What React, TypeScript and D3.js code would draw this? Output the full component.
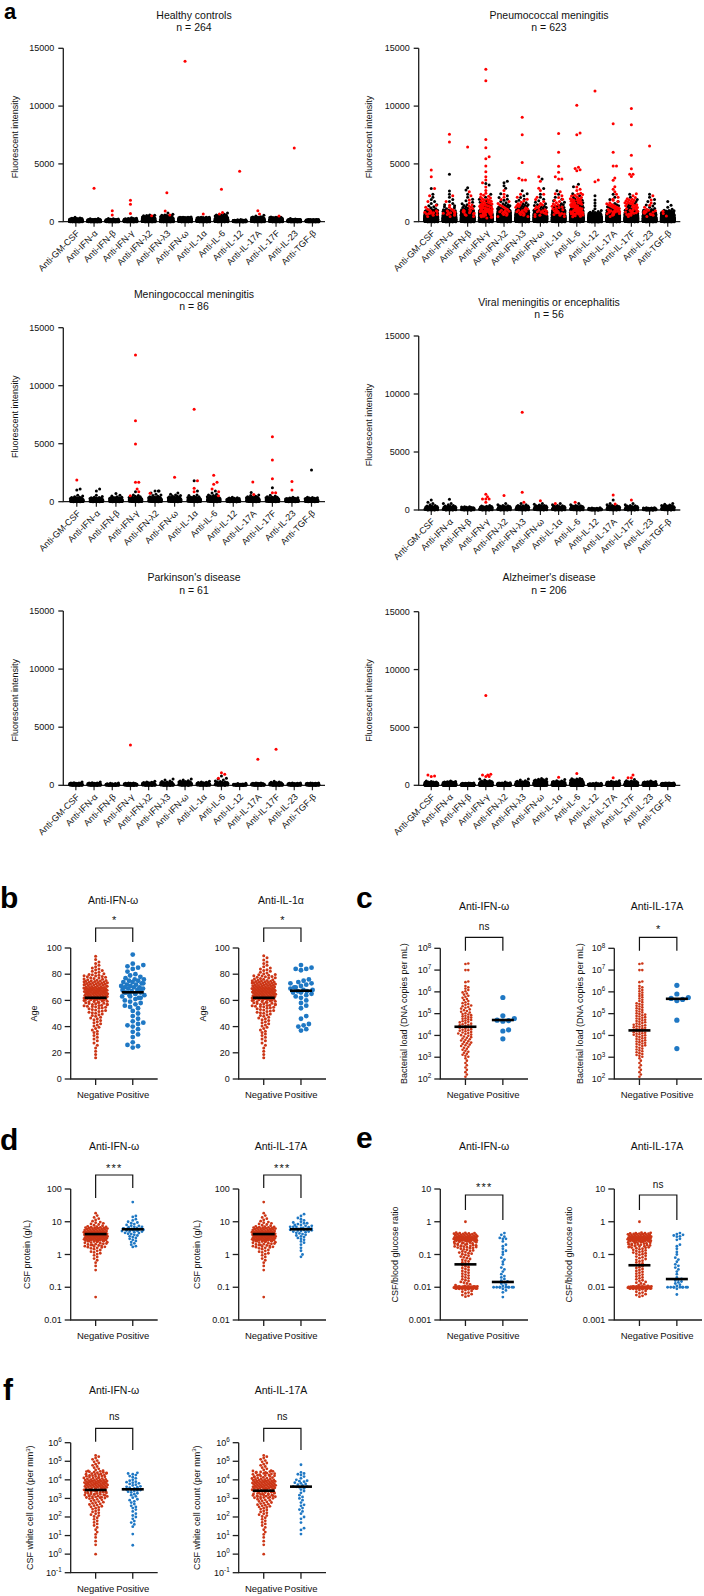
import React from 'react';
import * as d3 from 'd3';

const FONT = "'Liberation Sans', Arial, Helvetica, sans-serif";
const AXIS = '#1e1e1e';
const A_RED = '#ff0000';
const A_BLACK = '#000000';
const NEG = '#cc3616';
const POS = '#1f78c4';

// ---------------- Panel a data ----------------
const CATS14 = ['Anti-GM-CSF', 'Anti-IFN-α', 'Anti-IFN-β', 'Anti-IFN-γ', 'Anti-IFN-λ2', 'Anti-IFN-λ3', 'Anti-IFN-ω', 'Anti-IL-1α', 'Anti-IL-6', 'Anti-IL-12', 'Anti-IL-17A', 'Anti-IL-17F', 'Anti-IL-23', 'Anti-TGF-β'];
const CATS13 = ['Anti-GM-CSF', 'Anti-IFN-α', 'Anti-IFN-β', 'Anti-IFN-γ', 'Anti-IFN-λ2', 'Anti-IFN-ω', 'Anti-IL-1α', 'Anti-IL-6', 'Anti-IL-12', 'Anti-IL-17A', 'Anti-IL-17F', 'Anti-IL-23', 'Anti-TGF-β'];
const A_TICKS = [0, 5000, 10000, 15000];
const A_BIN_EDGES = [0, 100, 200, 300, 400, 600, 800, 1000, 1500, 2000, 2500];

// Healthy controls
const HC_BLACK_BINS = [
  [180, 70, 12, 2], [230, 30, 3], [230, 28, 4], [200, 50, 10, 1], [150, 60, 30, 12, 8], [170, 50, 20, 10, 8, 2],
  [120, 80, 45, 15], [150, 70, 30, 10], [130, 70, 35, 12, 10, 2], [255, 6], [150, 70, 25, 12, 3], [150, 70, 25, 12],
  [220, 40, 2], [240, 23],
];
const HC_BLACK_PTS: number[][] = [];
const HC_RED_PTS = [[1, 2900], [2, 950], [2, 580], [3, 1850], [3, 1500], [3, 720], [4, 520], [5, 2510], [5, 920], [5, 580],
  [6, 13870], [7, 660], [8, 2800], [8, 660], [8, 800], [9, 4355], [10, 950], [10, 660], [11, 490], [12, 6375]];

// Pneumococcal meningitis
const PM_BLACK_BINS = [
  [120, 130, 110, 90, 90, 45, 18, 6, 3, 2], [130, 130, 110, 90, 80, 40, 15, 6, 3, 2], [110, 120, 110, 95, 90, 50, 20, 8, 4, 2],
  [95, 105, 95, 80, 75, 45, 20, 8, 4, 2], [95, 110, 105, 95, 95, 55, 25, 10, 5, 3], [95, 105, 105, 95, 95, 55, 25, 10, 5, 3],
  [85, 100, 105, 105, 105, 60, 25, 8, 4, 2], [95, 105, 105, 95, 95, 50, 25, 8, 4, 2], [80, 95, 95, 90, 85, 50, 25, 10, 5, 3],
  [200, 180, 110, 65, 45, 12, 4, 2, 2, 1], [100, 110, 105, 95, 85, 45, 20, 6, 3, 2], [100, 110, 105, 95, 85, 45, 20, 6, 3, 2],
  [140, 140, 115, 85, 75, 30, 12, 5, 3, 2], [140, 140, 125, 95, 75, 30, 10, 3, 1, 0],
];
const PM_RED_BINS = [
  [0, 0, 0, 0, 2, 5, 6, 3, 1, 1], [0, 0, 0, 0, 2, 5, 5, 3, 1, 1], [0, 0, 0, 0, 2, 4, 6, 5, 2, 1], [0, 0, 0, 2, 8, 14, 16, 18, 12, 6],
  [0, 0, 0, 0, 2, 4, 5, 5, 3, 2], [0, 0, 0, 0, 2, 4, 5, 7, 4, 2], [0, 0, 0, 0, 2, 4, 5, 6, 3, 2], [0, 0, 0, 0, 2, 5, 6, 8, 5, 3],
  [0, 0, 0, 0, 4, 10, 14, 18, 14, 8], [], [0, 0, 0, 0, 2, 6, 8, 12, 5, 2], [0, 0, 0, 0, 2, 5, 7, 10, 12, 3],
  [0, 0, 0, 0, 2, 4, 5, 3, 2, 1], [0, 0, 0, 0, 1, 1, 1],
];
const PM_BLACK_PTS = [[0, 2880], [1, 4100], [1, 2650], [2, 2940], [2, 2740], [3, 3170], [3, 3300], [4, 3500], [4, 3370], [4, 3100],
  [4, 2900], [5, 2680], [6, 3700], [6, 2880], [7, 2680], [8, 3230], [8, 3030]];
const PM_RED_PTS = [[0, 4470], [0, 3890], [0, 2880], [1, 7560], [1, 6890], [2, 6460], [2, 2600],
  [3, 13180], [3, 12200], [3, 7120], [3, 6400], [3, 5620], [3, 5450], [3, 4820], [3, 4330], [3, 3890], [3, 3600], [3, 3370], [3, 3000], [3, 2700],
  [4, 2700], [5, 9030], [5, 7530], [5, 5130], [5, 3750], [5, 3600], [5, 3600], [6, 3890], [6, 3500], [6, 2900], [6, 2700],
  [7, 7620], [7, 6000], [7, 4790], [7, 4270], [7, 3890], [7, 3700], [7, 3700], [7, 2600],
  [8, 10070], [8, 7670], [8, 7530], [8, 4700], [8, 4600], [8, 4500], [8, 4400], [8, 3000], [8, 2800], [8, 2700],
  [9, 11300], [9, 3600], [9, 3460], [10, 8480], [10, 6000], [10, 4820], [10, 4820], [10, 3780], [10, 3580], [10, 3030], [10, 2800], [10, 2600],
  [11, 9800], [11, 8390], [11, 5740], [11, 4590], [11, 4100], [11, 4100], [11, 3900], [12, 6550]];

// Meningococcal meningitis (13 antigens)
const MM_BLACK_BINS = [
  [40, 25, 10, 5, 3], [40, 25, 12, 4, 2], [40, 25, 12, 5, 3, 1], [30, 25, 15, 6, 4], [30, 25, 15, 8, 4, 2], [30, 25, 15, 8, 5, 2],
  [30, 25, 15, 6, 4], [25, 25, 15, 8, 5, 2], [55, 20, 8, 3], [30, 25, 15, 8, 4], [30, 25, 15, 8, 3], [45, 25, 10, 3], [40, 28, 12, 4],
];
const MM_BLACK_PTS = [[0, 1000], [0, 1090], [1, 920], [1, 1090], [3, 860], [4, 920], [4, 920], [4, 920], [6, 920], [6, 1810],
  [7, 920], [9, 800], [10, 1200], [12, 2730]];
const MM_RED_PTS = [[0, 1870], [3, 12640], [3, 6980], [3, 4970], [3, 1670], [3, 1670], [3, 1090], [3, 860], [3, 520], [4, 720],
  [5, 2100], [6, 7960], [6, 1810], [6, 1150], [6, 860], [7, 2270], [7, 1670], [7, 1500], [7, 1090], [7, 860], [7, 520],
  [9, 1700], [9, 630], [10, 5600], [10, 3590], [10, 1980], [10, 780], [10, 780], [11, 1750], [11, 1000]];

// Viral meningitis or encephalitis
const VM_BLACK_BINS = [
  [25, 15, 8, 3, 2], [25, 15, 8, 3, 2], [35, 15, 5], [25, 15, 8, 3], [25, 15, 8, 4, 2], [22, 15, 8, 5, 2], [20, 15, 10, 6, 3],
  [25, 15, 8, 4, 2], [22, 15, 10, 5, 2], [50, 6], [22, 15, 10, 5, 2], [25, 15, 8, 4, 2], [45, 11], [20, 15, 12, 6, 3],
];
const VM_BLACK_PTS = [[0, 860], [0, 660], [1, 920], [1, 570], [10, 860]];
const VM_RED_PTS = [[3, 1350], [3, 1150], [3, 950], [3, 950], [3, 950], [3, 660], [4, 1240], [5, 8420], [5, 1520], [5, 660],
  [6, 800], [7, 570], [8, 660], [10, 1290], [10, 520], [11, 860]];

// Parkinson's disease
const PD_BLACK_BINS = [
  [45, 14, 2], [45, 14, 2], [55, 6], [48, 12], [40, 15, 5, 1], [40, 12, 5, 2, 2], [30, 15, 10, 4, 2], [40, 15, 5, 1],
  [30, 15, 6, 2, 2], [58, 3], [48, 12], [40, 15, 4, 1], [48, 13], [45, 16],
];
const PD_BLACK_PTS = [[8, 800], [8, 600]];
const PD_RED_PTS = [[3, 3470], [8, 1090], [8, 950], [8, 600], [10, 2240], [11, 3100]];

// Alzheimer's disease
const AD_BLACK_BINS = [
  [150, 40, 10, 2], [140, 50, 14, 2], [190, 16], [130, 45, 15, 5, 2], [180, 24, 2], [140, 45, 15, 3, 2], [80, 60, 40, 20, 6],
  [130, 50, 20, 4, 1], [110, 50, 25, 10, 8], [200, 6], [150, 40, 12, 3], [130, 50, 18, 4, 1], [140, 50, 14, 2], [180, 26],
];
const AD_BLACK_PTS: number[][] = [];
const AD_RED_PTS = [[0, 750], [0, 890], [0, 800], [3, 7750], [3, 950], [3, 890], [3, 890], [3, 750], [3, 750], [7, 690],
  [8, 1030], [10, 660], [11, 890], [11, 660], [11, 660]];

const A_TITLES = ['Healthy controls', 'Pneumococcal meningitis', 'Meningococcal meningitis', 'Viral meningitis or encephalitis', "Parkinson's disease", "Alzheimer's disease"];
const A_NS = ['n = 264', 'n = 623', 'n = 86', 'n = 56', 'n = 61', 'n = 206'];

// ---------------- Panels b-f data ----------------
const OUTCOME_CATS = ['Negative', 'Positive'];

const B_TICKS = [0, 20, 40, 60, 80, 100];
const B_AGE_EDGES = [15, 20, 25, 30, 35, 40, 45, 50, 55, 60, 65, 70, 75, 80, 85, 90, 95];
const B_IFNW_NEG_BINS = [2, 2, 3, 4, 5, 6, 8, 12, 20, 34, 38, 28, 16, 8, 4, 2];
const B_IFNW_POS = [95, 88, 87, 86, 85, 84, 82, 80, 79, 78, 77, 76, 76, 75, 75, 74, 74, 73, 73, 72, 72, 71, 71, 70, 70, 70, 69, 69, 68, 68,
  67, 67, 66, 66, 66, 65, 65, 64, 64, 63, 63, 62, 62, 61, 60, 59, 58, 57, 56, 55, 54, 52, 50, 48, 46, 44, 43, 42, 41, 40, 38, 36, 34, 32, 28, 26, 25, 24];
const B_IL1A_NEG_BINS = [2, 2, 3, 4, 5, 6, 8, 12, 20, 35, 39, 29, 16, 8, 4, 3];
const B_IL1A_POS = [87, 85, 84, 84, 83, 76, 75, 74, 73, 73, 72, 71, 70, 70, 69, 68, 68, 67, 67, 66, 66, 65, 64, 63, 62, 60, 58, 56, 54, 48, 46, 42, 41, 40, 38, 37];
const B_MEDIANS = [[62, 66.2], [62, 67.4]];

const C_TICKS = [1e2, 1e3, 1e4, 1e5, 1e6, 1e7, 1e8];
const C_LOG_EDGES = [2.05, 3, 3.5, 4, 4.5, 5, 5.5, 6, 6.3];
const C_IFNW_NEG_BINS = [9, 11, 16, 20, 18, 14, 10, 5];
const C_IL17A_NEG_BINS = [9, 12, 17, 22, 17, 13, 9, 5];
const C_NEG_TOP = [2e7, 1.9e7, 1e7, 1e7, 3e6, 2.8e6];
const C_IFNW_POS = [5.5e5, 8e4, 6e4, 5e4, 4.8e4, 4.5e4, 1.8e4, 1.6e4, 7e3];
const C_IL17A_POS = [2e6, 8e5, 5.5e5, 5e5, 4.5e5, 4e5, 5e4, 2.5e3];
const C_MEDIANS = [[2.5e4, 5.1e4], [1.7e4, 4.8e5]];

const D_TICKS = [0.01, 0.1, 1, 10, 100];
const D_LOG_EDGES = [-0.55, -0.4, -0.2, 0, 0.2, 0.4, 0.55, 0.7, 0.85, 1, 1.15, 1.3];
const D_IFNW_NEG_BINS = [1, 2, 4, 8, 20, 35, 40, 25, 8, 4, 2];
const D_IFNW_NEG_EXTRA = [0.05];
const D_IFNW_POS = [40, 15, 14, 12, 11, 10, 9.5, 9, 8.5, 8, 7.5, 7.5, 7, 7, 6.8, 6.5, 6.3, 6.2, 6, 6, 5.9, 5.8, 5.7, 5.7, 5.6, 5.5, 5.4, 5.3,
  5.2, 5, 5, 4.8, 4.6, 4.5, 4.3, 4.2, 4, 3.8, 3.6, 3.4, 3.2, 3, 2.8, 2.6, 2.4, 2.2, 2, 1.8, 1.7];
const D_IL17A_NEG_BINS = [1, 2, 4, 8, 20, 35, 40, 25, 8, 4, 2];
const D_IL17A_NEG_EXTRA = [0.05, 40];
const D_IL17A_POS = [17, 15, 13, 12, 11, 10, 9.5, 9, 9, 8.5, 8, 8, 7.5, 7.5, 7, 7, 7, 6.8, 6.5, 6.5, 6.2, 6, 6, 5.9, 5.8, 5.7, 5.6, 5.5, 5.4,
  5.2, 5, 5, 4.8, 4.6, 4.4, 4.2, 4, 3.8, 3.6, 3.4, 3.2, 3, 2.8, 2.5, 2.3, 2, 1.6, 1.3, 1, 0.85];
const D_MEDIANS = [[4.2, 5.9], [4.2, 5.9]];

const E_TICKS = [0.001, 0.01, 0.1, 1, 10];
const E_LOG_EDGES = [-2.3, -2.05, -1.97, -1.8, -1.6, -1.4, -1.2, -1, -0.8, -0.6, -0.45, -0.33];
const E_IFNW_NEG_BINS = [10, 45, 7, 7, 7, 7, 8, 12, 24, 40, 20];
const E_IL17A_NEG_BINS = [10, 44, 7, 7, 7, 7, 8, 12, 25, 41, 21];
const E_NEG_EXTRA = [1];
const E_IFNW_POS = [0.45, 0.4, 0.35, 0.32, 0.3, 0.3, 0.25, 0.2, 0.18, 0.15, 0.13, 0.12, 0.1, 0.08, 0.07, 0.06, 0.05, 0.04, 0.035, 0.03,
  0.025, 0.022, 0.02, 0.018, 0.016, 0.015, 0.014, 0.013, 0.012, 0.011, 0.01, 0.01, 0.01, 0.01, 0.01, 0.01, 0.01, 0.01, 0.01, 0.009, 0.008, 0.007, 0.005];
const E_IL17A_POS = [0.45, 0.42, 0.4, 0.38, 0.36, 0.35, 0.3, 0.28, 0.2, 0.18, 0.15, 0.12, 0.1, 0.08, 0.07, 0.06, 0.05, 0.045, 0.04, 0.035,
  0.03, 0.025, 0.02, 0.018, 0.017, 0.016, 0.015, 0.014, 0.013, 0.012, 0.011, 0.01, 0.01, 0.01, 0.01, 0.01, 0.01, 0.01, 0.01, 0.01, 0.009, 0.006];
const E_MEDIANS = [[0.05, 0.0145], [0.047, 0.0178]];

const F_TICKS = [0.1, 1, 10, 100, 1e3, 1e4, 1e5, 1e6];
const F_LOG_EDGES = [0.4, 1, 1.5, 2, 2.5, 3, 3.5, 4, 4.5, 5, 5.35];
const F_IFNW_NEG_BINS = [3, 4, 6, 10, 16, 35, 50, 32, 8, 5];
const F_IL17A_NEG_BINS = [3, 4, 6, 10, 17, 36, 50, 31, 8, 5];
const F_NEG_EXTRA = [1];
const F_IFNW_POS = [24000, 22000, 20000, 18000, 16000, 14000, 12000, 10000, 9000, 8000, 7500, 7000, 6500, 6000, 5500, 5000, 4500, 4200,
  4000, 3800, 3500, 3200, 3000, 2900, 2800, 2700, 2500, 2300, 2100, 1900, 1700, 1500, 1300, 1100, 900, 800, 700, 600, 500, 400, 350,
  300, 250, 200, 150, 120, 100, 80, 60, 50, 40, 30, 12, 3];
const F_IL17A_POS = [65000, 25000, 22000, 20000, 18000, 15000, 12000, 10000, 9000, 8500, 8000, 7000, 6500, 6000, 5500, 5000, 4500, 4300,
  4200, 4000, 3500, 3000, 2500, 2000, 1500, 1200, 1000, 800, 600, 450, 400, 300, 250, 200, 150, 100, 80, 50, 25, 20, 12];
const F_MEDIANS = [[2840, 3100], [2600, 4300]];

// ---------------- helpers ----------------
function spreadBins(counts: number[], edges: number[], log = false): number[] {
  const out: number[] = [];
  counts.forEach((n, i) => {
    const lo = edges[i], hi = edges[i + 1];
    for (let k = 0; k < n; k++) {
      const v = lo + ((k + 0.5) / n) * (hi - lo);
      out.push(log ? Math.pow(10, v) : v);
    }
  });
  return out;
}

type SP = { py: number; dx: number; tag: number };
function swarm(items: { py: number; tag: number }[], r: number, maxHalf: number): SP[] {
  const pts: SP[] = items.map(p => ({ py: p.py, tag: p.tag, dx: 0 })).sort((a, b) => b.py - a.py);
  const step = r * 1.1;
  const n = Math.max(0, Math.floor(maxHalf / step));
  const cands = [0];
  for (let k = 1; k <= n; k++) cands.push(k * step, -k * step);
  const minD = 2 * r * 0.92;
  const minD2 = minD * minD;
  const placed: SP[] = [];
  let fb = 0.13;
  for (const p of pts) {
    let chosen: number | null = null;
    for (const c of cands) {
      let ok = true;
      for (let j = placed.length - 1; j >= 0; j--) {
        const q = placed[j];
        const dy = q.py - p.py;
        if (dy >= minD) break;
        const dx = q.dx - c;
        if (dx * dx + dy * dy < minD2) { ok = false; break; }
      }
      if (ok) { chosen = c; break; }
    }
    if (chosen === null) {
      fb = (fb + 0.618034) % 1;
      chosen = (fb * 2 - 1) * maxHalf;
    }
    p.dx = chosen;
    placed.push(p);
  }
  return placed;
}

// ---------------- Panel a ----------------
const A_LAYOUT = [
  { x0: 63.3, x1: 325, top: 48.3, bot: 221.7, tx: 194, ty: 15, ny: 27, lx: 15 },
  { x0: 418.7, x1: 680.3, top: 48.3, bot: 221.7, tx: 549, ty: 15, ny: 27, lx: 369 },
  { x0: 63.3, x1: 325, top: 327.7, bot: 501.7, tx: 194, ty: 294, ny: 306, lx: 15 },
  { x0: 418.7, x1: 680.3, top: 336, bot: 510, tx: 549, ty: 302.7, ny: 314, lx: 369 },
  { x0: 63.3, x1: 325, top: 611, bot: 785.3, tx: 194, ty: 577.7, ny: 590, lx: 15 },
  { x0: 418.7, x1: 680.3, top: 611.7, bot: 785.3, tx: 549, ty: 577.7, ny: 590, lx: 369 },
];

const A_DATA = [
  { cats: CATS14, black: HC_BLACK_BINS, red: [] as number[][], blackPts: HC_BLACK_PTS, redPts: HC_RED_PTS },
  { cats: CATS14, black: PM_BLACK_BINS, red: PM_RED_BINS, blackPts: PM_BLACK_PTS, redPts: PM_RED_PTS },
  { cats: CATS13, black: MM_BLACK_BINS, red: [] as number[][], blackPts: MM_BLACK_PTS, redPts: MM_RED_PTS },
  { cats: CATS14, black: VM_BLACK_BINS, red: [] as number[][], blackPts: VM_BLACK_PTS, redPts: VM_RED_PTS },
  { cats: CATS14, black: PD_BLACK_BINS, red: [] as number[][], blackPts: PD_BLACK_PTS, redPts: PD_RED_PTS },
  { cats: CATS14, black: AD_BLACK_BINS, red: [] as number[][], blackPts: AD_BLACK_PTS, redPts: AD_RED_PTS },
];

function APanel({ idx }: { idx: number }) {
  const L = A_LAYOUT[idx];
  const D = A_DATA[idx];
  const y = d3.scaleLinear().domain([0, 15000]).range([L.bot, L.top]);
  const x = d3.scalePoint<string>().domain(D.cats).range([L.x0, L.x1]).padding(0.69);
  const dots: { cx: number; cy: number; tag: number }[] = [];
  D.cats.forEach((c, i) => {
    const items: { py: number; tag: number }[] = [];
    spreadBins(D.black[i] || [], A_BIN_EDGES).forEach(v => items.push({ py: y(v), tag: 0 }));
    spreadBins(D.red[i] || [], A_BIN_EDGES).forEach(v => items.push({ py: y(v), tag: 1 }));
    D.blackPts.filter(d => d[0] === i).forEach(d => items.push({ py: y(d[1]), tag: 0 }));
    D.redPts.filter(d => d[0] === i).forEach(d => items.push({ py: y(d[1]), tag: 1 }));
    const cx = x(c) as number;
    swarm(items, 1.5, 6.5).forEach(s => dots.push({ cx: cx + s.dx, cy: s.py, tag: s.tag }));
  });
  const blacks = dots.filter(d => d.tag === 0);
  const reds = dots.filter(d => d.tag === 1);
  return (
    <g>
      <text x={L.tx} y={L.ty} dy="0.35em" textAnchor="middle" fontSize={10.5} fill="#111">{A_TITLES[idx]}</text>
      <text x={L.tx} y={L.ny} dy="0.35em" textAnchor="middle" fontSize={10.5} fill="#111">{A_NS[idx]}</text>
      <text transform={`translate(${L.lx},${(L.top + L.bot) / 2 + 2}) rotate(-90)`} dy="0.35em" textAnchor="middle" fontSize={9} fill="#111">Fluorescent intensity</text>
      <path d={`M${L.x0},${L.top}V${L.bot}H${L.x1}`} fill="none" stroke={AXIS} strokeWidth={1.3} />
      {A_TICKS.map(t => (
        <g key={t}>
          <line x1={L.x0 - 5} x2={L.x0} y1={y(t)} y2={y(t)} stroke={AXIS} strokeWidth={1.3} />
          <text x={L.x0 - 9} y={y(t)} dy="0.35em" textAnchor="end" fontSize={9} fill="#111">{t}</text>
        </g>
      ))}
      {D.cats.map(c => {
        const cx = x(c) as number;
        return (
          <g key={c}>
            <line x1={cx} x2={cx} y1={L.bot} y2={L.bot + 5} stroke={AXIS} strokeWidth={1.2} />
            <text transform={`translate(${cx + 2},${L.bot + 10}) rotate(-45)`} dy="0.35em" textAnchor="end" fontSize={9} fill="#111">{c}</text>
          </g>
        );
      })}
      {blacks.map((d, i) => <circle key={'k' + i} cx={d.cx} cy={d.cy} r={1.5} fill={A_BLACK} />)}
      {reds.map((d, i) => <circle key={'r' + i} cx={d.cx} cy={d.cy} r={1.5} fill={A_RED} />)}
    </g>
  );
}

// ---------------- Panels b-f ----------------
type DP = {
  x0: number; x1: number; top: number; bot: number; tx: number; ty: number; sy: number; bt: number; bl: number; br: number; lx: number;
  title: string; sig: string; log: boolean; domain: [number, number]; ticks: number[]; fmt: string; ylab: string[];
  neg: number[]; pos: number[]; med: number[]; rNeg: number; rPos: number; hNeg: number; hPos: number;
};

const YL_AGE = ['Age'];
const YL_BACT = ['Bacterial load (DNA copies per mL)'];
const YL_PROT = ['CSF protein (g/L)'];
const YL_GLU = ['CSF/blood glucose ratio'];
const YL_WBC = ['CSF white cell count (per mm', '3', ')'];

const DOT_PANELS: DP[] = [
  { x0: 70.7, x1: 157.7, top: 948, bot: 1079, tx: 113, ty: 900, sy: 918, bt: 928, bl: 942, br: 942, lx: 34,
    title: 'Anti-IFN-ω', sig: '*', log: false, domain: [0, 100], ticks: B_TICKS, fmt: 'lin', ylab: YL_AGE,
    neg: spreadBins(B_IFNW_NEG_BINS, B_AGE_EDGES), pos: B_IFNW_POS, med: B_MEDIANS[0], rNeg: 1.5, rPos: 2.4, hNeg: 12, hPos: 12 },
  { x0: 238.7, x1: 326, top: 948, bot: 1079, tx: 281, ty: 900, sy: 918, bt: 928, bl: 942, br: 942, lx: 203,
    title: 'Anti-IL-1α', sig: '*', log: false, domain: [0, 100], ticks: B_TICKS, fmt: 'lin', ylab: YL_AGE,
    neg: spreadBins(B_IL1A_NEG_BINS, B_AGE_EDGES), pos: B_IL1A_POS, med: B_MEDIANS[1], rNeg: 1.5, rPos: 2.4, hNeg: 12, hPos: 12 },
  { x0: 440.3, x1: 528, top: 948.3, bot: 1079, tx: 484, ty: 906, sy: 926.7, bt: 937.3, bl: 950.7, br: 950.7, lx: 404,
    title: 'Anti-IFN-ω', sig: 'ns', log: true, domain: [1e2, 1e8], ticks: C_TICKS, fmt: 'pow', ylab: YL_BACT,
    neg: spreadBins(C_IFNW_NEG_BINS, C_LOG_EDGES, true).concat(C_NEG_TOP), pos: C_IFNW_POS, med: C_MEDIANS[0], rNeg: 1.3, rPos: 2.6, hNeg: 10, hPos: 12 },
  { x0: 614.3, x1: 702, top: 948.3, bot: 1079, tx: 657, ty: 906, sy: 926.7, bt: 937.3, bl: 950.7, br: 950.7, lx: 580,
    title: 'Anti-IL-17A', sig: '*', log: true, domain: [1e2, 1e8], ticks: C_TICKS, fmt: 'pow', ylab: YL_BACT,
    neg: spreadBins(C_IL17A_NEG_BINS, C_LOG_EDGES, true).concat(C_NEG_TOP), pos: C_IL17A_POS, med: C_MEDIANS[1], rNeg: 1.3, rPos: 2.6, hNeg: 10, hPos: 12 },
  { x0: 70.7, x1: 157.7, top: 1189, bot: 1320, tx: 114, ty: 1146, sy: 1166, bt: 1175, bl: 1198, br: 1188, lx: 26.7,
    title: 'Anti-IFN-ω', sig: '***', log: true, domain: [0.01, 100], ticks: D_TICKS, fmt: 'dec', ylab: YL_PROT,
    neg: spreadBins(D_IFNW_NEG_BINS, D_LOG_EDGES, true).concat(D_IFNW_NEG_EXTRA), pos: D_IFNW_POS, med: D_MEDIANS[0], rNeg: 1.4, rPos: 1.4, hNeg: 12, hPos: 11 },
  { x0: 238.7, x1: 326, top: 1189, bot: 1320, tx: 281, ty: 1146, sy: 1166, bt: 1175, bl: 1188, br: 1198, lx: 196.7,
    title: 'Anti-IL-17A', sig: '***', log: true, domain: [0.01, 100], ticks: D_TICKS, fmt: 'dec', ylab: YL_PROT,
    neg: spreadBins(D_IL17A_NEG_BINS, D_LOG_EDGES, true).concat(D_IL17A_NEG_EXTRA), pos: D_IL17A_POS, med: D_MEDIANS[1], rNeg: 1.4, rPos: 1.4, hNeg: 12, hPos: 11 },
  { x0: 440.3, x1: 528, top: 1189, bot: 1320, tx: 484, ty: 1146, sy: 1185, bt: 1195, bl: 1210, br: 1220, lx: 394.7,
    title: 'Anti-IFN-ω', sig: '***', log: true, domain: [0.001, 10], ticks: E_TICKS, fmt: 'dec', ylab: YL_GLU,
    neg: spreadBins(E_IFNW_NEG_BINS, E_LOG_EDGES, true).concat(E_NEG_EXTRA), pos: E_IFNW_POS, med: E_MEDIANS[0], rNeg: 1.4, rPos: 1.4, hNeg: 12, hPos: 11 },
  { x0: 614.3, x1: 702, top: 1189, bot: 1320, tx: 657, ty: 1146, sy: 1185, bt: 1195, bl: 1210, br: 1220, lx: 568.7,
    title: 'Anti-IL-17A', sig: 'ns', log: true, domain: [0.001, 10], ticks: E_TICKS, fmt: 'dec', ylab: YL_GLU,
    neg: spreadBins(E_IL17A_NEG_BINS, E_LOG_EDGES, true).concat(E_NEG_EXTRA), pos: E_IL17A_POS, med: E_MEDIANS[1], rNeg: 1.4, rPos: 1.4, hNeg: 12, hPos: 11 },
  { x0: 70.7, x1: 157.7, top: 1442.7, bot: 1572.7, tx: 114, ty: 1390, sy: 1417.3, bt: 1428.3, bl: 1441.7, br: 1450, lx: 30,
    title: 'Anti-IFN-ω', sig: 'ns', log: true, domain: [0.1, 1e6], ticks: F_TICKS, fmt: 'pow', ylab: YL_WBC,
    neg: spreadBins(F_IFNW_NEG_BINS, F_LOG_EDGES, true).concat(F_NEG_EXTRA), pos: F_IFNW_POS, med: F_MEDIANS[0], rNeg: 1.4, rPos: 1.4, hNeg: 12, hPos: 11 },
  { x0: 238.7, x1: 326, top: 1442.7, bot: 1572.7, tx: 281, ty: 1390, sy: 1417.3, bt: 1428.3, bl: 1441.7, br: 1450, lx: 196.7,
    title: 'Anti-IL-17A', sig: 'ns', log: true, domain: [0.1, 1e6], ticks: F_TICKS, fmt: 'pow', ylab: YL_WBC,
    neg: spreadBins(F_IL17A_NEG_BINS, F_LOG_EDGES, true).concat(F_NEG_EXTRA), pos: F_IL17A_POS, med: F_MEDIANS[1], rNeg: 1.4, rPos: 1.4, hNeg: 12, hPos: 11 },
];

function tickLabel(t: number, fmt: string) {
  if (fmt === 'pow') {
    const e = Math.round(Math.log10(t));
    return [<tspan key="b">10</tspan>, <tspan key="e" fontSize={6.3} dy={-3.8}>{String(e)}</tspan>];
  }
  return String(t);
}

function DotPanel({ p }: { p: DP }) {
  const y: any = p.log ? d3.scaleLog().domain(p.domain).range([p.bot, p.top]) : d3.scaleLinear().domain(p.domain).range([p.bot, p.top]);
  const x = d3.scalePoint<string>().domain(OUTCOME_CATS).range([p.x0, p.x1]).padding(0.672);
  const xn = x('Negative') as number;
  const xp = x('Positive') as number;
  const negS = swarm(p.neg.map(v => ({ py: y(v), tag: 0 })), p.rNeg, p.hNeg);
  const posS = swarm(p.pos.map(v => ({ py: y(v), tag: 1 })), p.rPos, p.hPos);
  const midY = (p.top + p.bot) / 2;
  const sigBase = p.sig.indexOf('*') >= 0 ? p.sy + 6 : p.sy + 3;
  return (
    <g>
      <text x={p.tx} y={p.ty} dy="0.35em" textAnchor="middle" fontSize={10.5} fill="#111">{p.title}</text>
      <text x={(xn + xp) / 2} y={sigBase} textAnchor="middle" fontSize={p.sig === 'ns' ? 10 : 11} letterSpacing={p.sig === '***' ? 1.2 : 0} fill="#111">{p.sig}</text>
      <path d={`M${xn},${p.bl}V${p.bt}H${xp}V${p.br}`} fill="none" stroke="#111" strokeWidth={1.2} />
      <text transform={`translate(${p.lx},${midY}) rotate(-90)`} dy="0.35em" textAnchor="middle" fontSize={9} fill="#111">
        {p.ylab.length === 1 ? p.ylab[0] : [
          <tspan key="a">{p.ylab[0]}</tspan>,
          <tspan key="b" fontSize={6} dy={-3.5}>{p.ylab[1]}</tspan>,
          <tspan key="c" dy={3.5}>{p.ylab[2]}</tspan>,
        ]}
      </text>
      <path d={`M${p.x0},${p.top}V${p.bot}H${p.x1}`} fill="none" stroke={AXIS} strokeWidth={1.3} />
      {p.ticks.map(t => (
        <g key={t}>
          <line x1={p.x0 - 6} x2={p.x0} y1={y(t)} y2={y(t)} stroke={AXIS} strokeWidth={1.3} />
          <text x={p.x0 - 9} y={y(t)} dy="0.35em" textAnchor="end" fontSize={9} fill="#111">{tickLabel(t, p.fmt)}</text>
        </g>
      ))}
      {OUTCOME_CATS.map(c => {
        const cx = x(c) as number;
        return (
          <g key={c}>
            <line x1={cx} x2={cx} y1={p.bot} y2={p.bot + 6} stroke={AXIS} strokeWidth={1.3} />
            <text x={cx} y={p.bot + 16} dy="0.35em" textAnchor="middle" fontSize={9.5} fill="#111">{c}</text>
          </g>
        );
      })}
      {negS.map((s, i) => <circle key={'n' + i} cx={xn + s.dx} cy={s.py} r={p.rNeg} fill={NEG} />)}
      {posS.map((s, i) => <circle key={'p' + i} cx={xp + s.dx} cy={s.py} r={p.rPos} fill={POS} />)}
      <line x1={xn - 11} x2={xn + 11} y1={y(p.med[0])} y2={y(p.med[0])} stroke="#000" strokeWidth={2.6} />
      <line x1={xp - 11} x2={xp + 11} y1={y(p.med[1])} y2={y(p.med[1])} stroke="#000" strokeWidth={2.6} />
    </g>
  );
}

const LETTERS = [
  { t: 'a', x: 4, y: 18.5, s: 22 },
  { t: 'b', x: 0, y: 908, s: 30 },
  { t: 'c', x: 356, y: 908, s: 30 },
  { t: 'd', x: 0, y: 1150, s: 30 },
  { t: 'e', x: 356, y: 1148, s: 30 },
  { t: 'f', x: 3, y: 1400, s: 30 },
];

export default function App() {
  return (
    <svg width={704} height={1596} style={{ position: 'absolute', left: 0, top: 0, display: 'block' }} fontFamily={FONT}>
      <rect x={0} y={0} width={704} height={1596} fill="#fff" />
      {A_LAYOUT.map((_, i) => <APanel key={i} idx={i} />)}
      {DOT_PANELS.map((p, i) => <DotPanel key={i} p={p} />)}
      {LETTERS.map(l => (
        <text key={l.t} x={l.x} y={l.y} fontSize={l.s} fontWeight="bold" fill="#000">{l.t}</text>
      ))}
    </svg>
  );
}
